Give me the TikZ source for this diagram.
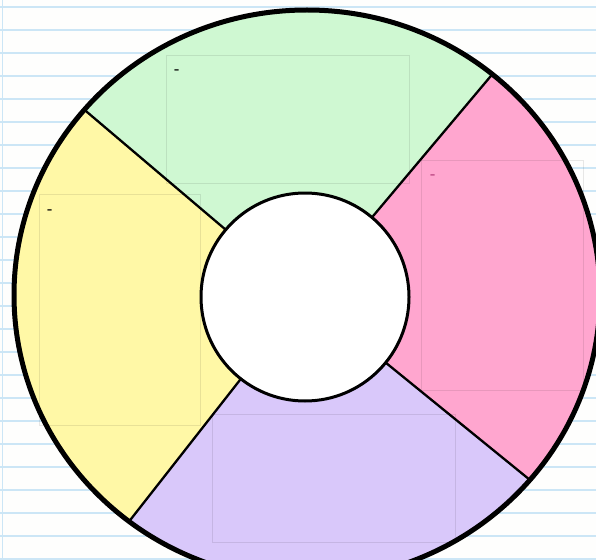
\documentclass[tikz,border=0pt]{standalone}
\begin{document}
\begin{tikzpicture}[x=1pt,y=-1pt,
  paperline/.style={draw=paperblue, line width=1.3pt},
  divider/.style={draw=black, line width=2.3pt},
  boxline/.style={draw=black, draw opacity=0.09, line width=0.8pt},
  dashmark/.style={font=\fontsize{14}{14}\selectfont\bfseries, inner sep=0pt}
]
\definecolor{paper}{HTML}{FEFEFD}
\definecolor{paperblue}{RGB}{204,230,246}
\definecolor{secgreen}{HTML}{CFF8D2}
\definecolor{secyellow}{HTML}{FFF8A6}
\definecolor{secpink}{HTML}{FFA6CF}
\definecolor{secpurple}{HTML}{D9C8FA}
\definecolor{pinkmark}{HTML}{B8407E}
\useasboundingbox (0,0) rectangle (596,559);
\fill[paper] (0,0) rectangle (596,559);
% ruled paper
\foreach \k in {0,...,24} {
  \draw[paperline] (0,{7+23*\k}) -- (596,{7+23*\k});
}
\draw[paperline] (2.5,0) -- (2.5,559);

\coordinate (ec) at (307,295);
\coordinate (ic) at (305,297);
\coordinate (fa) at (-349,-258);
\coordinate (fb) at (860,-363);
\coordinate (fc) at (980,846);
\coordinate (fd) at (-217,963);

\begin{scope}
  \clip (ec) ellipse [x radius=293pt, y radius=285pt];
  \fill[secgreen] (ic) -- (fa) -- (fb) -- cycle;
  \fill[secpink] (ic) -- (fb) -- (fc) -- cycle;
  \fill[secpurple] (ic) -- (fc) -- (fd) -- cycle;
  \fill[secyellow] (ic) -- (fd) -- (fa) -- cycle;
  \draw[divider] (ic) -- (fa);
  \draw[divider] (ic) -- (fb);
  \draw[divider] (ic) -- (fc);
  \draw[divider] (ic) -- (fd);
\end{scope}

% faint text-box outlines
\draw[boxline] (166,55) rectangle (409,183);
\draw[boxline] (39,194) rectangle (200,425);
\draw[boxline] (421,160) rectangle (583,390);
\draw[boxline] (212,414) rectangle (455,542);

\node[dashmark] (mg) at (177,72) {-};
\node[dashmark] (my) at (50,212) {-};
\node[dashmark, text=pinkmark] (mp) at (433,177) {-};

% inner circle
\draw[fill=white, line width=3pt] (ic) circle [radius=104pt];
% outer rim
\draw[line width=5pt] (ec) ellipse [x radius=293pt, y radius=285pt];
\end{tikzpicture}
\end{document}
